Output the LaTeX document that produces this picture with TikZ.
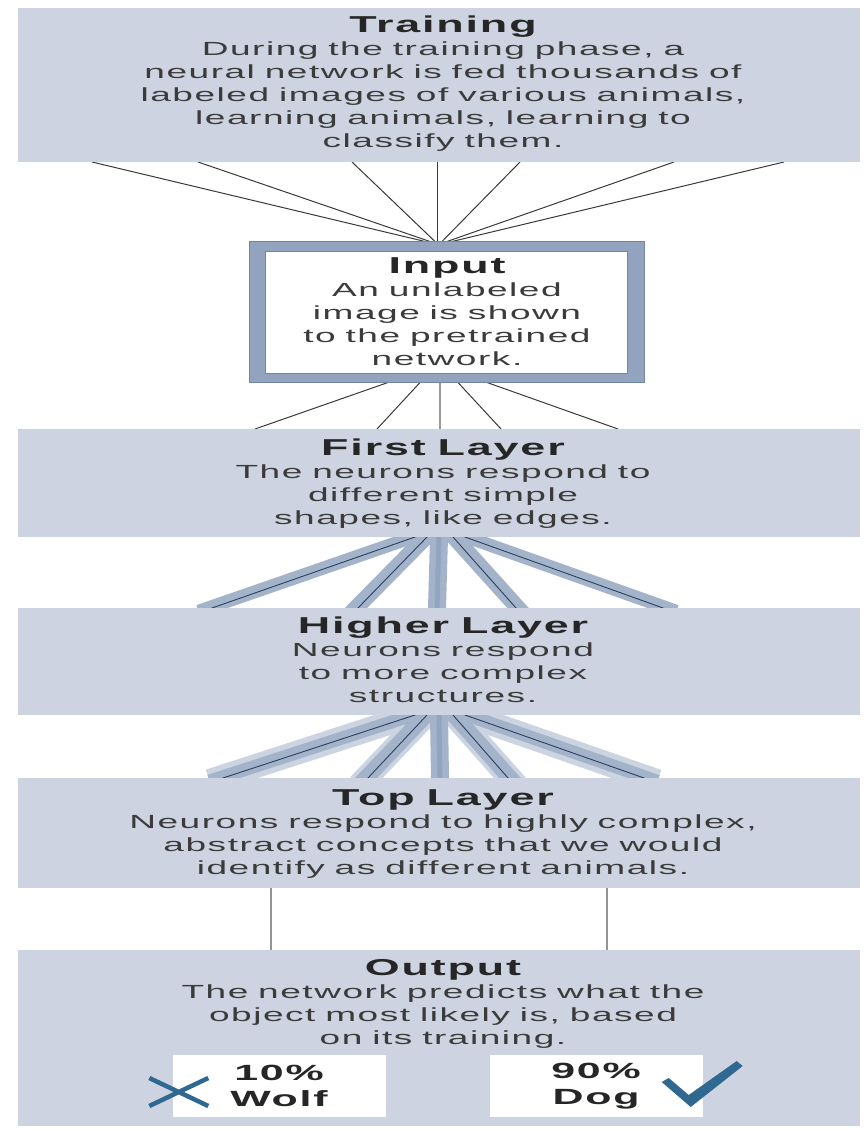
\documentclass[tikz,border=0pt]{standalone}
\usepackage{fontspec}
\setmainfont[FakeStretch=1.95, LetterSpace=8]{Liberation Sans}
\pgfdeclarelayer{background}
\pgfsetlayers{background,main}

\definecolor{boxfill}{HTML}{CDD3E1}
\definecolor{frameblue}{HTML}{91A3BE}
\definecolor{frameedge}{HTML}{7286A4}
\definecolor{bandblue}{HTML}{A3B4CA}
\definecolor{bandmid}{HTML}{92A5BE}
\definecolor{bandhalo}{HTML}{CBD4E0}
\definecolor{bandcore}{HTML}{2C3E5C}
\definecolor{titlegray}{HTML}{262626}
\definecolor{bodygray}{HTML}{3B3B3B}
\definecolor{markblue}{HTML}{2F6891}
\definecolor{wiregray}{HTML}{3A3A3A}
\definecolor{stemgray}{HTML}{9A9A9A}

% wider word gaps to suit the stretched face
\newcommand\wordgap{\spaceskip=0.52em\relax}
\newcommand\boxtitle[1]{{\bfseries\fontsize{23}{23}\selectfont\wordgap\color{titlegray}#1}}

\begin{document}
\begin{tikzpicture}[x=1pt,y=-1pt,
  panel/.style={fill=boxfill, draw=none, minimum width=842pt, inner sep=0pt, outer sep=0pt},
  boxtext/.style={anchor=base, text width=820pt, align=center, inner sep=0pt,
    text=bodygray, font=\fontsize{19}{23}\selectfont},
  result/.style={fill=white, minimum width=213pt, minimum height=62pt, inner sep=0pt,
    align=center, text=titlegray, font=\bfseries\fontsize{22}{26}\selectfont},
  wire/.style={draw=wiregray, line width=1pt},
  stem/.style={draw=stemgray, line width=2.5pt},
  band/.style={draw=bandblue, line width=#1, shorten <=-10pt, shorten >=-10pt},
  halo/.style={draw=bandhalo, line width=#1, shorten <=-10pt, shorten >=-10pt},
  core/.style={draw=bandcore, line width=0.9pt, shorten <=-10pt, shorten >=-10pt},
  riser/.style={draw=gray!85, line width=1.6pt}
]
\useasboundingbox (0,0) rectangle (863,1131);

% ---- panels ----
\node[panel, minimum height=154pt] (train) at (439,85) {};
\node[boxtext] (traintxt) at (443,32.7) {\wordgap\boxtitle{Training}\\During the training phase, a\\neural network is fed thousands of\\labeled images of various animals,\\learning animals, learning to\\classify them.};

\node[fill=frameblue, draw=frameedge, line width=1pt, minimum width=395pt,
      minimum height=140pt, inner sep=0pt] (input) at (446.5,312) {};
\fill[white, draw=frameedge, line width=0.8pt]
  ([xshift=17pt,yshift=-10pt]input.north west) rectangle ([xshift=-17pt,yshift=9pt]input.south east);
\node[boxtext, text width=340pt] (inputtxt) at (447,273) {\wordgap\boxtitle{Input}\\An unlabeled\\image is shown\\to the pretrained\\network.};

\node[panel, minimum height=108pt] (first) at (439,483) {};
\node[boxtext] (firsttxt) at (443,455) {\wordgap\boxtitle{First Layer}\\The neurons respond to\\different simple\\shapes, like edges.};

\node[panel, minimum height=107pt] (higher) at (439,661.5) {};
\node[boxtext] (highertxt) at (443,633) {\wordgap\boxtitle{Higher Layer}\\Neurons respond\\to more complex\\structures.};

\node[panel, minimum height=110pt] (top) at (439,833) {};
\node[boxtext] (toptxt) at (443,805) {\wordgap\boxtitle{Top Layer}\\Neurons respond to highly complex,\\abstract concepts that we would\\identify as different animals.};

\node[panel, minimum height=176pt] (output) at (439,1038) {};
\node[boxtext] (outputtxt) at (443,975) {\wordgap\boxtitle{Output}\\The network predicts what the\\object most likely is, based\\on its training.};

\node[result] (wolf) at (279,1086) {10\%\\Wolf};
\node[result] (dog) at (596,1086) {90\%\\Dog};

% cross beside the wolf score
\draw[markblue, line width=4.5pt]
  ([xshift=-23pt,yshift=8pt]wolf.west) -- ([xshift=36pt,yshift=-20pt]wolf.west)
  ([xshift=-23pt,yshift=-20pt]wolf.west) -- ([xshift=36pt,yshift=8pt]wolf.west);
% tick beside the dog score
\begin{scope}[shift={(dog.east)}]
  \fill[markblue] (-41,-4) -- (-34,-8) -- (-14,9) -- (34,-25) -- (40,-20) -- (-12,21) -- cycle;
\end{scope}

% ---- connectors, kept behind the panels ----
\begin{pgfonlayer}{background}
  \fill[white] (0,0) rectangle (863,1131);

  % training -> input
  \foreach \a/\b in {-347/-21.5, -241/-16.5, -87/-11.5, -2/-9.5, 81/-4.5, 235/0.5, 345/5.5}
    \draw[wire] ([xshift=\a]train.south) -- ([xshift=\b]input.north);

  % input -> first layer
  \foreach \a/\b in {-58.5/-184, -26.5/-62, 40.5/179, 11.5/62}
    \draw[wire] ([xshift=\a]input.south) -- ([xshift=\b]first.north);
  \draw[stem] ([xshift=-6.5]input.south) -- ([xshift=1]first.north);

  % first layer -> higher layer
  \foreach \a/\b/\w in {-26/-231/13pt, -13/-83/16pt, 15/79/16pt, 28/228/13pt}
    \draw[band=\w] ([xshift=\a]first.south) -- ([xshift=\b]higher.north);
  \draw[band=18pt] ([xshift=0]first.south) -- ([xshift=-2]higher.north);
  \draw[draw=bandmid, line width=5pt, shorten <=-10pt, shorten >=-10pt]
    ([xshift=0]first.south) -- ([xshift=-2]higher.north);
  \foreach \a/\b in {-24/-227, -12/-81, 14/77, 26/224}
    \draw[core] ([xshift=\a]first.south) -- ([xshift=\b]higher.north);

  % higher layer -> top layer
  \foreach \a/\b/\w in {-26/-220/24pt, -13/-73/24pt, 15/71/24pt, 28/209/24pt}
    \draw[halo=\w] ([xshift=\a]higher.south) -- ([xshift=\b]top.north);
  \foreach \a/\b/\w in {-26/-220/13pt, -13/-73/16pt, 15/71/16pt, 28/209/13pt}
    \draw[band=\w] ([xshift=\a]higher.south) -- ([xshift=\b]top.north);
  \draw[band=18pt] ([xshift=0]higher.south) -- ([xshift=1]top.north);
  \draw[draw=bandmid, line width=5pt, shorten <=-10pt, shorten >=-10pt]
    ([xshift=0]higher.south) -- ([xshift=1]top.north);
  \foreach \a/\b in {-24/-216, -12/-71, 14/69, 26/205}
    \draw[core] ([xshift=\a]higher.south) -- ([xshift=\b]top.north);
\end{pgfonlayer}

% top layer -> output
\draw[riser] ([xshift=-168]top.south) -- ([xshift=-168]output.north);
\draw[riser] ([xshift=168]top.south) -- ([xshift=168]output.north);
\end{tikzpicture}
\end{document}
